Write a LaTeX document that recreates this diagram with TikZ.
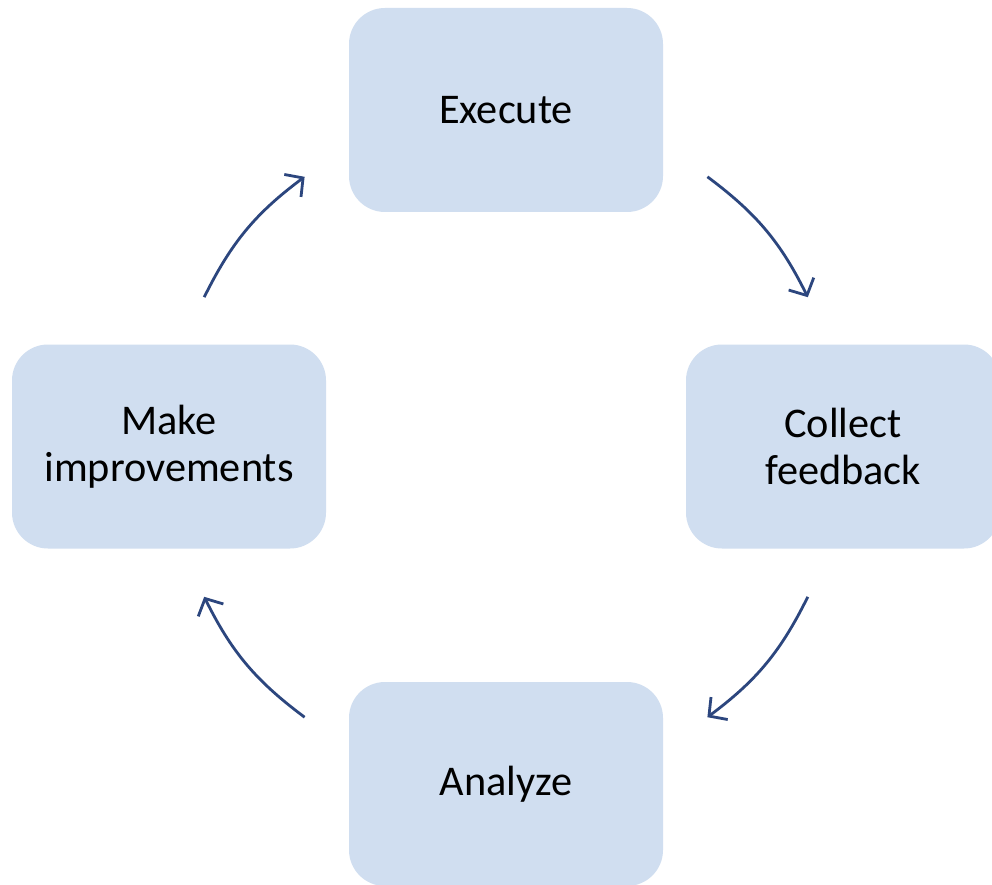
\documentclass[tikz,border=0pt]{standalone}
\usepackage{fontspec}
\setmainfont{Carlito}
\usetikzlibrary{arrows.meta}
\definecolor{boxfill}{RGB}{208,222,240}
\definecolor{arrowblue}{RGB}{44,70,126}
\begin{document}
\begin{tikzpicture}[x=1pt,y=-1pt,
  stagebox/.style={fill=boxfill, draw=none, rounded corners=36pt,
    minimum width=314pt, minimum height=204pt, inner sep=0pt,
    align=center, font=\fontsize{42.3}{47}\selectfont},
  cyclearrow/.style={draw=arrowblue, line width=2.8pt,
    -{Straight Barb[length=13pt,width=28pt,line width=2.8pt]}}]
\clip (0,0) rectangle (992,885);
\fill[white] (0,0) rectangle (992,885);
\node[stagebox] (execute) at (506,110) {Execute};
\node[stagebox] (collect) at (843,446.5) {Collect\\feedback};
\node[stagebox] (analyze) at (506,784) {Analyze};
\node[stagebox] (make) at (169,446.5) {Make\\improvements};
\coordinate (a1) at (707.4,176.8);
\coordinate (a2) at (807.8,297.2);
\coordinate (b1) at (807.8,596.8);
\coordinate (b2) at (707.4,717.2);
\coordinate (c1) at (304.6,717.2);
\coordinate (c2) at (204.2,596.8);
\coordinate (d1) at (204.2,297.2);
\coordinate (d2) at (304.6,176.8);
\draw[cyclearrow] (a1) to[bend left=13.5] (a2);
\draw[cyclearrow] (b1) to[bend left=13.5] (b2);
\draw[cyclearrow] (c1) to[bend left=13.5] (c2);
\draw[cyclearrow] (d1) to[bend left=13.5] (d2);
\end{tikzpicture}
\end{document}
